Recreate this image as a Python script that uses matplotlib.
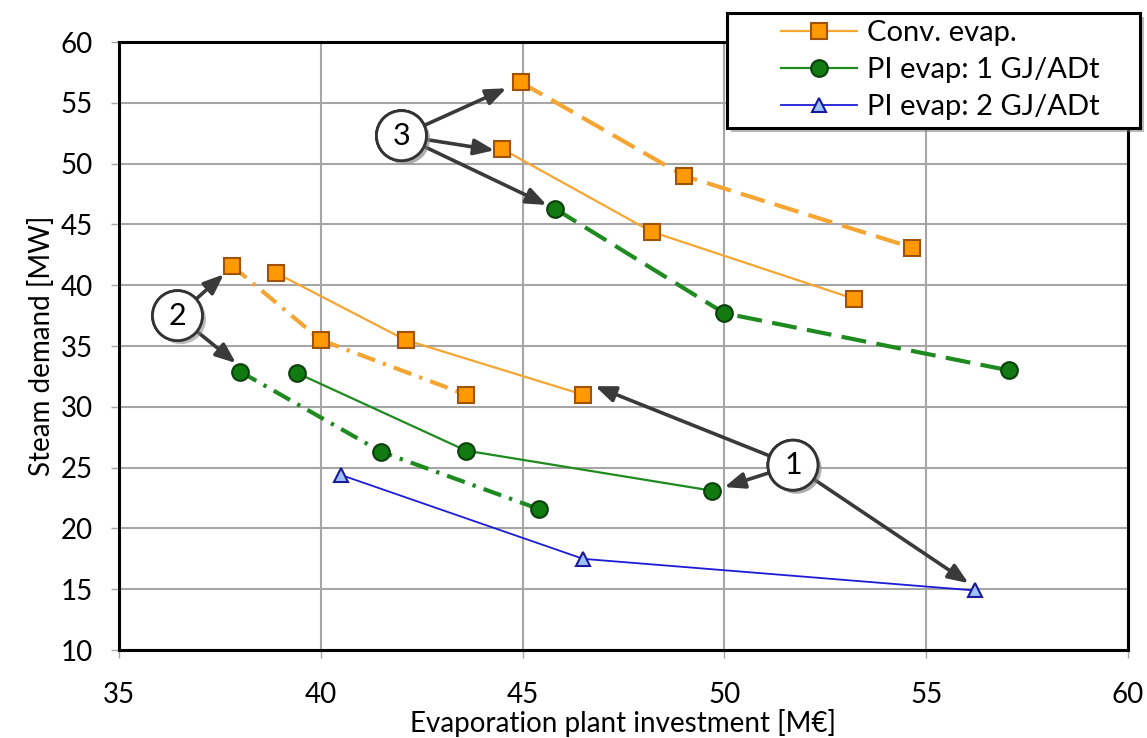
import matplotlib
matplotlib.use("Agg")
import matplotlib.pyplot as plt
import matplotlib.patheffects as pe
from matplotlib.patches import Rectangle

plt.rcParams['font.family'] = ['Lato', 'DejaVu Sans']

# Data
conv_a_x = [38.9, 42.1, 46.5]
conv_a_y = [41.0, 35.5, 31.0]
conv_b_x = [37.8, 40.0, 43.6]
conv_b_y = [41.6, 35.5, 31.0]
conv_c_x = [44.5, 48.2, 53.2]
conv_c_y = [51.2, 44.4, 38.9]
conv_d_x = [44.95, 49.0, 54.65]
conv_d_y = [56.7, 49.0, 43.1]

pi1_a_x = [39.4, 43.6, 49.7]
pi1_a_y = [32.8, 26.4, 23.1]
pi1_b_x = [38.0, 41.5, 45.4]
pi1_b_y = [32.9, 26.3, 21.6]
pi1_c_x = [45.8, 50.0, 57.05]
pi1_c_y = [46.3, 37.7, 33.0]

pi2_x = [40.5, 46.5, 56.2]
pi2_y = [24.4, 17.5, 14.9]

orange = '#f5a531'
orange_face = '#ff9900'
orange_edge = '#a0520a'
green = '#1f8a1f'
green_face = '#117a11'
green_edge = '#0b3f0b'
blue = '#1c1cd6'
blue_face = '#9cc2ff'
blue_edge = '#1a1a9a'

dash = (6, 2.5)
dashdot = (4.5, 2, 0.8, 2)

fig = plt.figure(figsize=(11.47, 7.38), dpi=100)
ax = fig.add_axes([0.1037, 0.1192, 0.8797, 0.8238])

sq = dict(marker='s', markersize=11, markerfacecolor=orange_face,
          markeredgecolor=orange_edge, markeredgewidth=1.5)
ci = dict(marker='o', markersize=12, markerfacecolor=green_face,
          markeredgecolor=green_edge, markeredgewidth=1.5)
tr = dict(marker='^', markersize=10, markerfacecolor=blue_face,
          markeredgecolor=blue_edge, markeredgewidth=1.5)

ax.plot(conv_a_x, conv_a_y, color=orange, lw=1.6, zorder=3, label='Conv. evap.', **sq)
ax.plot(conv_b_x, conv_b_y, color=orange, lw=3, dashes=dashdot, zorder=3, **sq)
ax.plot(conv_c_x, conv_c_y, color=orange, lw=1.6, zorder=3, **sq)
ax.plot(conv_d_x, conv_d_y, color=orange, lw=3, dashes=dash, zorder=3, **sq)

ax.plot(pi1_a_x, pi1_a_y, color=green, lw=1.6, zorder=3, label='PI evap: 1 GJ/ADt', **ci)
ax.plot(pi1_b_x, pi1_b_y, color=green, lw=3, dashes=dashdot, zorder=3, **ci)
ax.plot(pi1_c_x, pi1_c_y, color=green, lw=3, dashes=dash, zorder=3, **ci)

ax.plot(pi2_x, pi2_y, color=blue, lw=1.3, zorder=3, label='PI evap: 2 GJ/ADt', **tr)

ax.set_xlim(35, 60)
ax.set_ylim(10, 60)
ax.set_xticks(range(35, 61, 5))
ax.set_yticks(range(10, 61, 5))
ax.grid(True, color='#a6a6a6', lw=1.5)
ax.set_axisbelow(True)
for s in ax.spines.values():
    s.set_linewidth(2.2)
    s.set_color('black')
ax.tick_params(axis='both', labelsize=20, length=6, color='#a6a6a6', width=1)
ax.tick_params(axis='x', pad=17)
ax.tick_params(axis='y', pad=13)
ax.set_xlabel('Evaporation plant investment [M€]', fontsize=20, labelpad=1)
ax.set_ylabel('Steam demand [MW]', fontsize=20, labelpad=4)

# Numbered callouts with arrows
callouts = [
    ('1', (51.7, 25.2), [(46.8, 31.7), (50.0, 23.4), (56.05, 15.5)]),
    ('2', (36.45, 37.5), [(37.6, 40.9), (37.9, 33.6)]),
    ('3', (42.0, 52.3), [(44.6, 56.2), (44.3, 51.1), (45.6, 46.6)]),
]
for label, center, targets in callouts:
    for tx, ty in targets:
        ann = ax.annotate(
            label, xy=(tx, ty), xytext=center, fontsize=22, ha='center', va='center',
            zorder=6,
            bbox=dict(boxstyle='circle,pad=0.36', fc='white', ec='#333333', lw=2),
            arrowprops=dict(arrowstyle='-|>,head_length=0.55,head_width=0.22',
                            color='#3a3a3a', lw=2.6, shrinkA=0, shrinkB=0))
        ann.get_bbox_patch().set_path_effects(
            [pe.SimplePatchShadow(offset=(2.5, -2.5), shadow_rgbFace='#999999', alpha=0.4),
             pe.Normal()])

# Legend box drawn by hand so the padding matches the reference
box = Rectangle((727 / 1147, 1 - 128 / 738), 413 / 1147, 115 / 738,
                transform=fig.transFigure, facecolor='white', edgecolor='black',
                lw=2.2, zorder=4)
box.set_path_effects([pe.SimplePatchShadow(offset=(3, -3), shadow_rgbFace='#777777', alpha=0.5),
                      pe.Normal()])
fig.patches.append(box)

leg = fig.legend(loc='center left', bbox_to_anchor=(781 / 1147, 1 - 70 / 738), fontsize=21,
                 frameon=False, handlelength=2.6, borderpad=0, borderaxespad=0,
                 labelspacing=0.38, handletextpad=0.35)
leg.set_zorder(5)

fig.savefig('out.png', dpi=100)
